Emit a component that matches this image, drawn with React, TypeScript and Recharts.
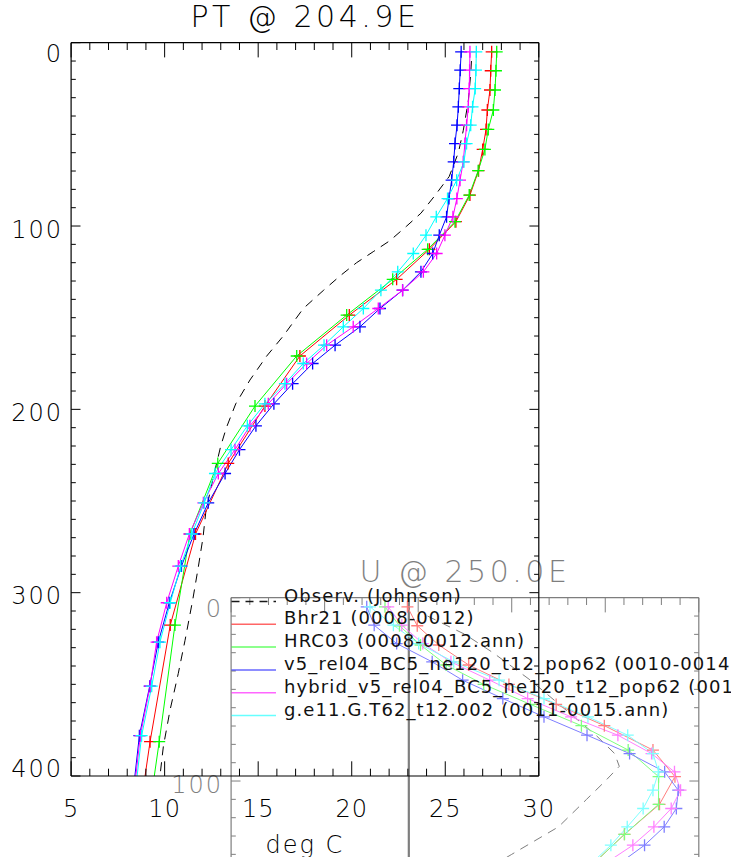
import React from 'react';
import { LineChart, Line, XAxis, YAxis, Legend, ReferenceLine } from 'recharts';

const W = 731;
const H = 857;
const PL = 71.1;
const PR = 538.8;
const PTOP = 42.7;
const PB = 776;
const FONT = '"DejaVu Sans", "Liberation Sans", sans-serif';

// ---------- depth grids (m) ----------
const depthA = [5, 15, 25, 35, 45, 55, 65, 75, 85, 95, 105, 115, 125, 135, 145, 155, 165, 175, 186, 197, 209, 222, 235, 251, 268, 285.5, 305.5, 327, 351, 378, 410];
const depthB = [5, 15.3, 25.8, 36.7, 47.3, 58.2, 69.8, 83.1, 97.6, 112.7, 129.1, 148.6, 170.9, 198.2, 229.5, 268, 317.7, 381.3, 460];
const depthObsPT = [10, 17, 32, 48, 60, 73, 84, 93, 100, 108, 114, 120, 127, 135, 145, 160, 171, 184, 197, 210, 220, 237, 256, 270, 286, 304, 326, 344, 364, 384, 400, 420];

// ---------- PT @ 204.9E (deg C) ----------
const obsPT = [26.4, 26.36, 26.23, 25.96, 25.7, 25.21, 24.4, 23.7, 22.94, 22.04, 21.15, 20.26, 19.4, 18.5, 17.41, 16.34, 15.45, 14.56, 13.8, 13.3, 13.0, 12.6, 12.2, 12.05, 11.8, 11.5, 11.09, 10.73, 10.29, 9.93, 9.75, 9.4];
const bhr21PT = [27.48, 27.43, 27.39, 27.25, 27.18, 27.0, 26.78, 26.32, 25.57, 24.15, 22.4, 19.87, 17.23, 15.36, 13.4, 11.65, 10.3, 9.22, 8.1];
const hrc03PT = [27.75, 27.71, 27.66, 27.57, 27.3, 27.12, 26.76, 26.28, 25.52, 24.06, 22.19, 19.73, 17.06, 14.83, 12.84, 11.35, 10.55, 9.71, 8.6];
const v5PT = [25.85, 25.8, 25.75, 25.7, 25.63, 25.52, 25.45, 25.34, 25.2, 25.07, 24.68, 24.33, 23.7, 22.72, 21.51, 20.44, 19.11, 17.91, 16.84, 15.84, 14.88, 14.0, 13.23, 12.33, 11.57, 10.9, 10.25, 9.66, 9.2, 8.65, 8.3];
const hybridPT = [26.32, 26.3, 26.28, 26.23, 26.14, 26.05, 25.96, 25.79, 25.62, 25.41, 24.98, 24.54, 23.83, 22.72, 21.42, 20.08, 18.66, 17.59, 16.52, 15.54, 14.56, 13.76, 12.87, 12.07, 11.32, 10.73, 10.11, 9.57, 9.22, 8.7, 8.35];
const ge11PT = [26.66, 26.64, 26.6, 26.46, 26.36, 26.14, 26.0, 25.61, 25.12, 24.52, 23.97, 23.29, 22.46, 21.56, 20.62, 19.55, 18.52, 17.41, 16.43, 15.36, 14.42, 13.55, 12.69, 12.12, 11.45, 10.86, 10.3, 9.75, 9.31, 8.77, 8.42];

// ---------- U @ 250.0E (cm/s) ----------
const depthObsU = [10, 20, 30, 45, 60, 75, 85, 92, 100, 110, 125, 140, 155];
const obsU = [4, 12, 18, 26, 33, 40, 44, 45, 42, 38, 32, 22, 12];
const bhr21U = [-0.3, 1.8, 6.4, 12.8, 21.4, 31.5, 41.8, 52.2, 56.9, 53.6, 46.1, 38, 28];
const hrc03U = [-5.1, -2, 2.5, 8, 16, 26, 36.9, 46.9, 53.4, 53.4, 46.1, 38, 28];
const v5U = [-9, -7.4, -2.6, 5, 11.5, 20.1, 28.9, 38.1, 47.2, 54.7, 57.6, 57.2, 54.6, 50.4, 45, 38];
const hybridU = [-4.4, -1.5, 3, 9, 17.3, 25.4, 34.7, 44.7, 51.9, 56.8, 58.1, 56.1, 52.4, 47.9, 42, 36];
const ge11U = [-8.3, -3.3, 2.1, 9.6, 19.3, 28.9, 38.3, 46.8, 52.2, 53.4, 52.2, 50.1, 46.7, 43.2, 39, 34];

// ---------- axes ----------
const ptTicks = Array.from({ length: 26 }, (_, i) => 5 + i);
const uTicks = Array.from({ length: 26 }, (_, i) => -38 + 4 * i);
const depthTicks = Array.from({ length: 41 }, (_, i) => i * 10);
const depthLabels = [0, 100, 200, 300, 400];
const depthLabelsU = [0, 100];

// ---------- legend ----------
const legendNames = [
  'Observ. (Johnson)',
  'Bhr21 (0008-0012)',
  'HRC03 (0008-0012.ann)',
  'v5_rel04_BC5_ne120_t12_pop62 (0010-0014.ann)',
  'hybrid_v5_rel04_BC5_ne120_t12_pop62 (0016-0020.ann)',
  'g.e11.G.T62_t12.002 (0011-0015.ann)',
];
const legendColors = ['#000000', '#ff0000', '#00ff00', '#0000ff', '#ff00ff', '#00ffff'];

type Pt = { d: number; t: number };
const mk = (ds: number[], vs: number[]): Pt[] => vs.map((v, i) => ({ d: ds[i], t: v }));

type Series = { name: string; color: string; data: Pt[]; dashed?: boolean };

const ptSeries: Series[] = [
  { name: legendNames[0], color: legendColors[0], data: mk(depthObsPT, obsPT), dashed: true },
  { name: legendNames[1], color: legendColors[1], data: mk(depthB, bhr21PT) },
  { name: legendNames[2], color: legendColors[2], data: mk(depthB, hrc03PT) },
  { name: legendNames[3], color: legendColors[3], data: mk(depthA, v5PT) },
  { name: legendNames[4], color: legendColors[4], data: mk(depthA, hybridPT) },
  { name: legendNames[5], color: legendColors[5], data: mk(depthA, ge11PT) },
];

const uSeries: Series[] = [
  { name: legendNames[0], color: legendColors[0], data: mk(depthObsU, obsU), dashed: true },
  { name: legendNames[1], color: legendColors[1], data: mk(depthB, bhr21U) },
  { name: legendNames[2], color: legendColors[2], data: mk(depthB, hrc03U) },
  { name: legendNames[3], color: legendColors[3], data: mk(depthA, v5U) },
  { name: legendNames[4], color: legendColors[4], data: mk(depthA, hybridU) },
  { name: legendNames[5], color: legendColors[5], data: mk(depthA, ge11U) },
];

const plus = (color: string) => (props: any) => {
  const { cx, cy, index } = props;
  if (cx == null || cy == null || isNaN(cx) || isNaN(cy)) return <g key={`p${index}`} />;
  return (
    <path
      key={`p${index}`}
      d={`M${cx - 6},${cy}h12M${cx},${cy - 6}v12`}
      stroke={color}
      strokeWidth={1.3}
      fill="none"
    />
  );
};

const textStyle = { fontFamily: FONT, fontWeight: 200 as any };
const legendTextStyle = { fontFamily: FONT, fontWeight: 400 as any };

type PanelProps = {
  title: string;
  xLabel?: string;
  xDomain: [number, number];
  xTicks: number[];
  isMajor: (v: number, i: number) => boolean;
  showXLabels: boolean;
  yLabels: number[];
  series: Series[];
  legend?: boolean;
  zeroLine?: boolean;
  color: string;
};

function Panel(p: PanelProps) {
  const { color } = p;
  const XTick = (top: boolean) => (props: any) => {
    const { x, y, payload, index } = props;
    const major = p.isMajor(payload.value, index);
    const len = major ? 14.7 : 7.3;
    return (
      <g>
        <line x1={x} x2={x} y1={y} y2={top ? y + len : y - len} stroke={color} strokeWidth={1} />
        {!top && major && p.showXLabels ? (
          <text x={x} y={y + 41} textAnchor="middle" fontSize={24} letterSpacing={1} fill={color} style={textStyle}>
            {payload.value}
          </text>
        ) : null}
      </g>
    );
  };
  const YTick = (right: boolean) => (props: any) => {
    const { x, y, payload } = props;
    const v = payload.value;
    const major = v % 100 === 0;
    const len = major ? 9.4 : 4.7;
    let dy = 11.5;
    if (v === 0) dy = 19;
    if (v === 400) dy = 0.5;
    return (
      <g>
        <line x1={x} x2={right ? x - len : x + len} y1={y} y2={y} stroke={color} strokeWidth={1} />
        {!right && p.yLabels.includes(v) ? (
          <text x={x - 8} y={y + dy} textAnchor="end" fontSize={24} letterSpacing={2} fill={color} style={textStyle}>
            {v}
          </text>
        ) : null}
      </g>
    );
  };
  const cx = (PL + PR) / 2;
  return (
    <LineChart
      width={W}
      height={H}
      margin={{ left: PL - 1, right: W - PR - 1, top: PTOP - 1, bottom: H - PB - 1 }}
    >
      <XAxis
        xAxisId="b"
        type="number"
        dataKey="t"
        orientation="bottom"
        domain={p.xDomain}
        allowDataOverflow
        ticks={p.xTicks}
        interval={0}
        height={1}
        tickSize={0}
        tickMargin={0}
        tickLine={false}
        axisLine={{ stroke: color, strokeWidth: 1.2 }}
        tick={XTick(false)}
        label={
          p.xLabel
            ? {
                value: p.xLabel,
                content: () => (
                  <text x={cx} y={853} textAnchor="middle" fontSize={24} letterSpacing={2} fill={color} style={textStyle}>
                    {p.xLabel}
                  </text>
                ),
              }
            : undefined
        }
      />
      <XAxis
        xAxisId="t"
        type="number"
        dataKey="t"
        orientation="top"
        domain={p.xDomain}
        allowDataOverflow
        ticks={p.xTicks}
        interval={0}
        height={1}
        tickSize={0}
        tickMargin={0}
        tickLine={false}
        axisLine={{ stroke: color, strokeWidth: 1.2 }}
        tick={XTick(true)}
        label={{
          value: p.title,
          content: () => (
            <text x={cx} y={26.7} textAnchor="middle" fontSize={30} letterSpacing={3.5} fill={color} style={textStyle}>
              {p.title}
            </text>
          ),
        }}
      />
      <YAxis
        yAxisId="l"
        type="number"
        dataKey="d"
        orientation="left"
        reversed
        domain={[0, 400]}
        allowDataOverflow
        ticks={depthTicks}
        interval={0}
        width={1}
        tickSize={0}
        tickMargin={0}
        tickLine={false}
        axisLine={{ stroke: color, strokeWidth: 1.2 }}
        tick={YTick(false)}
      />
      <YAxis
        yAxisId="r"
        type="number"
        dataKey="d"
        orientation="right"
        reversed
        domain={[0, 400]}
        allowDataOverflow
        ticks={depthTicks}
        interval={0}
        width={1}
        tickSize={0}
        tickMargin={0}
        tickLine={false}
        axisLine={{ stroke: color, strokeWidth: 1.2 }}
        tick={YTick(true)}
      />
      {p.zeroLine ? (
        <ReferenceLine xAxisId="b" yAxisId="l" x={0} stroke={color} strokeWidth={2.2} />
      ) : null}
      {p.series.map((s) => (
        <Line
          key={s.name}
          xAxisId="b"
          yAxisId="l"
          data={s.data}
          dataKey="d"
          name={s.name}
          type="linear"
          stroke={s.color}
          strokeWidth={1}
          strokeDasharray={s.dashed ? '9 7' : undefined}
          dot={s.dashed ? false : plus(s.color)}
          activeDot={false}
          isAnimationActive={false}
        />
      ))}
      {p.legend ? (
        <Legend
          layout="horizontal"
          verticalAlign="middle"
          align="center"
          wrapperStyle={{ position: 'absolute', left: 0, top: 0, width: W, height: H, pointerEvents: 'none' }}
          content={() => (
            <svg width={W} height={H} style={{ position: 'absolute', left: 0, top: 0 }}>
              {legendNames.map((n, i) => {
                const ly = 601.5 + 22.8 * i;
                return (
                  <g key={n}>
                    <line
                      x1={231.5}
                      x2={276}
                      y1={ly}
                      y2={ly}
                      stroke={legendColors[i]}
                      strokeOpacity={i === 0 ? 0.9 : 0.6}
                      strokeWidth={1.5}
                      strokeDasharray={i === 0 ? '8 6' : undefined}
                    />
                    <text x={284} y={ly} fontSize={18} letterSpacing={1.1} fill="#111" style={legendTextStyle}>
                      {n}
                    </text>
                  </g>
                );
              })}
            </svg>
          )}
        />
      ) : null}
    </LineChart>
  );
}

export default function App() {
  return (
    <div style={{ position: 'fixed', left: 0, top: 0, width: W, height: H, overflow: 'hidden', background: '#fff' }}>
      <div style={{ position: 'absolute', left: 160.4, top: 554.6, opacity: 0.5 }}>
        <Panel
          title="U @ 250.0E"
          xDomain={[-38, 62]}
          xTicks={uTicks}
          isMajor={(v, i) => i % 5 === 0}
          showXLabels={false}
          yLabels={depthLabelsU}
          series={uSeries}
          zeroLine
          color="#000"
        />
      </div>
      <div style={{ position: 'absolute', left: 0, top: 0 }}>
        <Panel
          title="PT @ 204.9E"
          xLabel="deg C"
          xDomain={[5, 30]}
          xTicks={ptTicks}
          isMajor={(v) => v % 5 === 0}
          showXLabels
          yLabels={depthLabels}
          series={ptSeries}
          legend
          color="#000"
        />
      </div>
    </div>
  );
}
